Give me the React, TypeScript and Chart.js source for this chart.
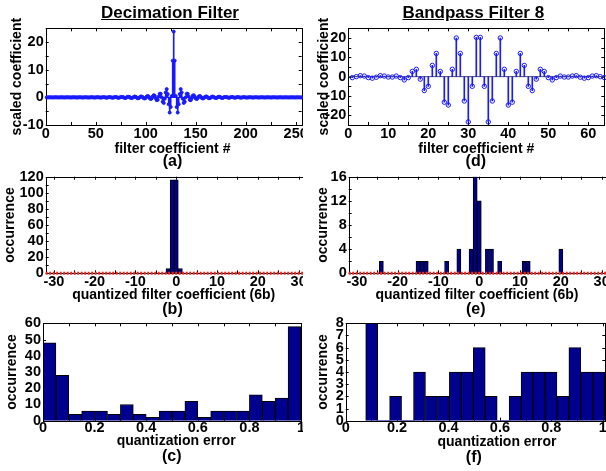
import React, { useEffect, useRef } from 'react';
import { Chart, registerables } from 'chart.js';

Chart.register(...registerables);

const FONT = "'Liberation Sans', Arial, Helvetica, sans-serif";
Chart.defaults.font.family = FONT;
Chart.defaults.color = '#000';

// ---------- Panel (a): decimation filter coefficients (256 taps) ----------
const decimationCoefs = [
  -0.01, -0.01, 0.01, 0.01, 0.01, -0.01, -0.02, -0.01,
  0.01, 0.02, 0.01, -0.01, -0.02, -0.01, 0.01, 0.02, 0.01, -0.02,
  -0.02, -0.01, 0.02, 0.02, 0.01, -0.02, -0.03, -0.01, 0.02, 0.03,
  0.02, -0.02, -0.03, -0.02, 0.02, 0.03, 0.02, -0.02, -0.04, -0.02,
  0.03, 0.04, 0.02, -0.03, -0.04, -0.02, 0.03, 0.05, 0.02, -0.04,
  -0.05, -0.02, 0.04, 0.06, 0.03, -0.05, -0.07, -0.03, 0.06, 0.08,
  0.03, -0.06, -0.1, -0.04, 0.08, 0.1, 0.04, -0.08, -0.12, -0.05,
  0.1, 0.12, 0.05, -0.1, -0.15, -0.05, 0.1, 0.15, 0.1, 0.0,
  -0.2, -0.2, 0.0, 0.2, 0.2, 0.1, -0.2, -0.2, -0.1, 0.1,
  0.3, 0.2, -0.1, -0.3, -0.3, 0.0, 0.3, 0.3, 0.1, -0.3,
  -0.4, -0.2, 0.3, 0.5, 0.3, -0.3, -0.6, -0.4, 0.3, 0.8,
  0.6, -0.3, -1.0, -0.9, 0.3, 1.3, 1.3, 0.0, -1.6, -2.0,
  -0.5, 1.8, 3.0, 1.2, -2.5, -5.5, -3.5, 0.5, 13.3,
  23.8,
  13.3, 0.5, -3.5, -5.5, -2.5, 1.2, 3.0, 1.8, -0.5, -2.0,
  -1.6, 0.0, 1.3, 1.3, 0.3, -0.9, -1.0, -0.3, 0.6, 0.8,
  0.3, -0.4, -0.6, -0.3, 0.3, 0.5, 0.3, -0.2, -0.4, -0.3,
  0.1, 0.3, 0.3, 0.0, -0.3, -0.3, -0.1, 0.2, 0.3, 0.1,
  -0.1, -0.2, -0.2, 0.1, 0.2, 0.2, 0.0, -0.2, -0.2, 0.0,
  0.1, 0.15, 0.1, -0.05, -0.15, -0.1, 0.05, 0.12, 0.1, -0.05,
  -0.12, -0.08, 0.04, 0.1, 0.08, -0.04, -0.1, -0.06, 0.03, 0.08,
  0.06, -0.03, -0.07, -0.05, 0.03, 0.06, 0.04, -0.02, -0.05, -0.04,
  0.02, 0.05, 0.03, -0.02, -0.04, -0.03, 0.02, 0.04, 0.03, -0.02,
  -0.04, -0.02, 0.02, 0.03, 0.02, -0.02, -0.03, -0.02, 0.02, 0.03,
  0.02, -0.01, -0.03, -0.02, 0.01, 0.02, 0.02, -0.01, -0.02, -0.02,
  0.01, 0.02, 0.01, -0.01, -0.02, -0.01, 0.01, 0.02, 0.01, -0.01,
  -0.02, -0.01, 0.01, 0.01, 0.01, -0.01, -0.01, -0.01,
];
const decimationIndex = decimationCoefs.map((_, i) => i + 1);

// ---------- Panel (d): bandpass filter 8 coefficients (64 taps) ----------
const bandpassCoefs = [
  -0.5, 0, 0.5, 0.3, -0.5, -0.8, -0.3, 0.5, 0.3, -0.2,
  -0.2, 0.3, -0.5, -1.7, -0.5, 2.7, 3.8, -1.3, -7.2, -5,
  5.8, 12, 2.7, -13.2, -14.7, 3.8, 20, 12, -12.6, -23.4,
  -5, 20.3, 20.3, -5, -23.4, -12.6, 12, 20, 3.8, -14.7,
  -13.2, 2.7, 12, 5.8, -5, -7.2, -1.3, 3.8, 2.7, -0.5,
  -1.7, -0.5, 0.3, -0.2, -0.2, 0.3, 0.5, -0.3, -0.8, -0.5,
  0.3, 0.5, 0, -0.5,
];
const bandpassIndex = bandpassCoefs.map((_, i) => i + 1);

// ---------- Panel (b): histogram of quantized decimation coefs ----------
const decQuantBins = [-2, -1, 0, 1];
const decQuantCounts = [6, 116, 116, 6];

// ---------- Panel (e): histogram of quantized bandpass coefs ----------
const bpQuantBins = [-24, -15, -14, -13, -8, -5, -2, -1, 0, 2, 3, 5, 11, 12, 20];
const bpQuantCounts = [2, 2, 2, 2, 2, 4, 4, 16, 12, 4, 4, 2, 2, 2, 4];

// ---------- Panel (c): quantization error histogram (decimation) ----------
const decErrBins = [0.025, 0.075, 0.125, 0.175, 0.225, 0.275, 0.325, 0.375, 0.425, 0.475,
  0.525, 0.575, 0.625, 0.675, 0.725, 0.775, 0.825, 0.875, 0.925, 0.975];
const decErrCounts = [48, 28, 4, 6, 6, 4, 10, 4, 2, 6, 6, 12, 2, 6, 6, 6, 16, 12, 14, 58];

// ---------- Panel (f): quantization error histogram (bandpass) ----------
const bpErrBins = [0.1011, 0.1476, 0.1941, 0.2406, 0.2871, 0.3336, 0.3801, 0.4266, 0.4731, 0.5196,
  0.5661, 0.6126, 0.6591, 0.7056, 0.7521, 0.7986, 0.8451, 0.8916, 0.9381, 0.9846];
const bpErrCounts = [8, 0, 2, 0, 4, 2, 2, 4, 4, 6, 2, 0, 2, 4, 4, 4, 2, 6, 4, 4];

// ---------- Tick values / labels ----------
const aXTicks = [0, 25, 50, 75, 100, 125, 150, 175, 200, 225, 250];
const aXLabels = ['0', '', '50', '', '100', '', '150', '', '200', '', '250'];
const aYTicks = [-10, -5, 0, 5, 10, 15, 20, 25];
const aYLabels = ['-10', '', '0', '', '10', '', '20', ''];
const dXTicks = [0, 5, 10, 15, 20, 25, 30, 35, 40, 45, 50, 55, 60];
const dXLabels = ['0', '', '10', '', '20', '', '30', '', '40', '', '50', '', '60'];
const dYTicks = [-25, -20, -15, -10, -5, 0, 5, 10, 15, 20, 25];
const dYLabels = ['', '-20', '', '-10', '', '0', '', '10', '', '20', ''];
const qXTicks = [-30, -25, -20, -15, -10, -5, 0, 5, 10, 15, 20, 25, 30];
const qXLabels = ['-30', '', '-20', '', '-10', '', '0', '', '10', '', '20', '', '30'];
const bYTicks = [0, 10, 20, 30, 40, 50, 60, 70, 80, 90, 100, 110, 120];
const bYLabels = ['0', '', '20', '', '40', '', '60', '', '80', '', '100', '', '120'];
const eYTicks = [0, 2, 4, 6, 8, 10, 12, 14, 16];
const eYLabels = ['0', '', '4', '', '8', '', '12', '', '16'];
const errXTicks = [0, 0.1, 0.2, 0.3, 0.4, 0.5, 0.6, 0.7, 0.8, 0.9, 1];
const errXLabels = ['0', '', '0.2', '', '0.4', '', '0.6', '', '0.8', '', '1'];
const cYTicks = [0, 10, 20, 30, 40, 50, 60];
const cYLabels = ['0', '10', '20', '30', '40', '50', '60'];
const fYTicks = [0, 1, 2, 3, 4, 5, 6, 7, 8];
const fYLabels = ['0', '1', '2', '3', '4', '5', '6', '7', '8'];

// ---------- Texts ----------
const titleLeft = 'Decimation Filter';
const titleRight = 'Bandpass Filter 8';
const xTitleCoef = 'filter coefficient #';
const xTitleQuant = 'quantized filter coefficient (6b)';
const xTitleErr = 'quantization error';
const yTitleCoef = 'scaled coefficient';
const yTitleOcc = 'occurrence';

const COL2 = 303;
const STEM_BLUE = '#1a1aff';
const HIST_FILL = '#00008f';

const framePlugin = {
  id: 'frameTicks',
  beforeDatasetsDraw(chart: any) {
    const { ctx, chartArea } = chart;
    const { left, right, top, bottom } = chartArea;
    const xs = chart.scales.x;
    const ys = chart.scales.y;
    const len = 3;
    ctx.save();
    ctx.strokeStyle = '#000';
    ctx.lineWidth = 1;
    ctx.beginPath();
    xs.ticks.forEach((t: any) => {
      const px = Math.round(xs.getPixelForValue(t.value)) + 0.5;
      ctx.moveTo(px, bottom);
      ctx.lineTo(px, bottom - len);
      ctx.moveTo(px, top);
      ctx.lineTo(px, top + len);
    });
    ys.ticks.forEach((t: any) => {
      const py = Math.round(ys.getPixelForValue(t.value)) + 0.5;
      ctx.moveTo(left, py);
      ctx.lineTo(left + len, py);
      ctx.moveTo(right, py);
      ctx.lineTo(right - len, py);
    });
    ctx.stroke();
    const l = Math.round(left) + 0.5;
    const t = Math.round(top) + 0.5;
    ctx.strokeRect(l, t, Math.round(right) - Math.round(left), Math.round(bottom) - Math.round(top));
    ctx.restore();
  },
};

type Spec = {
  col: number;
  plot: { L: number; T: number; R: number; B: number };
  xMin: number; xMax: number; yMin: number; yMax: number;
  xTicks: number[]; xLabels: string[];
  yTicks: number[]; yLabels: string[];
  yTitle: string; yTitlePad: number; xTickPad: number;
  datasets: any[];
};

const toPts = (xs: number[], ys: number[]) => xs.map((x, i) => ({ x, y: ys[i] }));

const stemDatasets = (xs: number[], ys: number[], radius: number, filled: boolean, baseEnd: number, baseColor: string) => [
  {
    type: 'line', data: toPts(xs, ys), showLine: false,
    pointRadius: radius, pointBorderWidth: 1, pointBorderColor: STEM_BLUE,
    pointBackgroundColor: filled ? STEM_BLUE : 'rgba(0,0,0,0)', order: 0, clip: false,
  },
  {
    type: 'bar', data: toPts(xs, ys), backgroundColor: STEM_BLUE, barThickness: 1,
    borderWidth: 0, order: 1,
  },
  {
    type: 'line', data: [{ x: 0, y: 0 }, { x: baseEnd, y: 0 }], borderColor: baseColor,
    borderWidth: 1, pointRadius: 0, order: 2,
  },
];

const histDatasets = (xs: number[], ys: number[], redLine: number[] | null) => {
  const ds: any[] = [
    {
      type: 'bar', data: toPts(xs, ys), backgroundColor: HIST_FILL, borderColor: '#000',
      borderWidth: (c: any) => (c.raw && c.raw.y > 0 ? 1 : 0),
      barPercentage: 1, categoryPercentage: 1, order: 1,
    },
  ];
  if (redLine) {
    ds.push({
      type: 'line', data: [{ x: redLine[0], y: 0 }, { x: redLine[1], y: 0 }], borderColor: '#ff1f1f',
      borderWidth: 3, borderDash: [2, 1.5], pointRadius: 0, order: 0, clip: false,
    });
  }
  return ds;
};

const specs: Spec[] = [
  {
    col: 0, plot: { L: 45.7, T: 28.3, R: 301.7, B: 125 },
    xMin: 0, xMax: 256, yMin: -10, yMax: 25,
    xTicks: aXTicks, xLabels: aXLabels, yTicks: aYTicks, yLabels: aYLabels,
    yTitle: yTitleCoef, yTitlePad: 9.1, xTickPad: 0,
    datasets: stemDatasets(decimationIndex, decimationCoefs, 1.5, true, 256, STEM_BLUE),
  },
  {
    col: 1, plot: { L: 348.3, T: 28.3, R: 604.3, B: 125 },
    xMin: 0, xMax: 64, yMin: -25, yMax: 25,
    xTicks: dXTicks, xLabels: dXLabels, yTicks: dYTicks, yLabels: dYLabels,
    yTitle: yTitleCoef, yTitlePad: 12.6, xTickPad: 0,
    datasets: stemDatasets(bandpassIndex, bandpassCoefs, 2.2, false, 64, '#555'),
  },
  {
    col: 0, plot: { L: 45.7, T: 176.7, R: 306.8, B: 273.3 },
    xMin: -32, xMax: 32, yMin: 0, yMax: 120,
    xTicks: qXTicks, xLabels: qXLabels, yTicks: bYTicks, yLabels: bYLabels,
    yTitle: yTitleOcc, yTitlePad: 2.1, xTickPad: 0,
    datasets: histDatasets(decQuantBins, decQuantCounts, [-32, 32]),
  },
  {
    col: 1, plot: { L: 348.7, T: 176.7, R: 609.8, B: 273.3 },
    xMin: -32, xMax: 32, yMin: 0, yMax: 16,
    xTicks: qXTicks, xLabels: qXLabels, yTicks: eYTicks, yLabels: eYLabels,
    yTitle: yTitleOcc, yTitlePad: 11.4, xTickPad: 0,
    datasets: histDatasets(bpQuantBins, bpQuantCounts, [-32, 32]),
  },
  {
    col: 0, plot: { L: 43, T: 323.3, R: 301, B: 420.7 },
    xMin: 0, xMax: 1, yMin: 0, yMax: 60,
    xTicks: errXTicks, xLabels: errXLabels, yTicks: cYTicks, yLabels: cYLabels,
    yTitle: yTitleOcc, yTitlePad: 3.7, xTickPad: -1,
    datasets: histDatasets(decErrBins, decErrCounts, null),
  },
  {
    col: 1, plot: { L: 345.7, T: 323.3, R: 605.3, B: 420.7 },
    xMin: 0, xMax: 1.01, yMin: 0, yMax: 8,
    xTicks: errXTicks, xLabels: errXLabels, yTicks: fYTicks, yLabels: fYLabels,
    yTitle: yTitleOcc, yTitlePad: 11.7, xTickPad: -1,
    datasets: histDatasets(bpErrBins, bpErrCounts, null),
  },
];

const tickFont = { family: FONT, size: 14.5, weight: 'bold' as const };

function PanelChart({ spec }: { spec: Spec }) {
  const ref = useRef<HTMLCanvasElement>(null);
  const colX = spec.col === 0 ? 0 : COL2;
  const canvasTop = Math.floor(spec.plot.T) - 14;
  const canvasH = Math.ceil(spec.plot.B) + 26 - canvasTop;
  const canvasW = 340;
  useEffect(() => {
    const padTop = spec.plot.T - canvasTop;
    const xH = canvasTop + canvasH - spec.plot.B;
    const yW = spec.plot.L - colX;
    const padRight = canvasW - (spec.plot.R - colX);
    const chart = new Chart(ref.current as HTMLCanvasElement, {
      type: 'bar',
      data: { datasets: spec.datasets },
      options: {
        animation: false,
        responsive: false,
        maintainAspectRatio: false,
        events: [],
        layout: { padding: { left: 0, top: padTop, right: padRight, bottom: 0 } },
        plugins: { legend: { display: false }, tooltip: { enabled: false }, title: { display: false } },
        scales: {
          x: {
            type: 'linear', min: spec.xMin, max: spec.xMax, offset: false,
            grid: { display: false, drawTicks: false }, border: { display: false },
            ticks: {
              font: tickFont, color: '#000', padding: spec.xTickPad, autoSkip: false, maxRotation: 0, minRotation: 0,
              callback: (_v: any, i: number) => spec.xLabels[i],
            },
            afterBuildTicks: (s: any) => { s.ticks = spec.xTicks.map((v) => ({ value: v })); },
            afterFit: (s: any) => { s.height = xH; },
          },
          y: {
            type: 'linear', min: spec.yMin, max: spec.yMax,
            grid: { display: false, drawTicks: false }, border: { display: false },
            ticks: {
              font: tickFont, color: '#000', padding: 2, autoSkip: false,
              callback: (_v: any, i: number) => spec.yLabels[i],
            },
            title: {
              display: true, text: spec.yTitle, color: '#000',
              font: { family: FONT, size: 14, weight: 'bold' },
              padding: { top: spec.yTitlePad, bottom: 0 },
            },
            afterBuildTicks: (s: any) => { s.ticks = spec.yTicks.map((v) => ({ value: v })); },
            afterFit: (s: any) => { s.width = yW; },
          },
        },
      } as any,
      plugins: [framePlugin],
    });
    return () => chart.destroy();
  }, []);
  return (
    <canvas
      ref={ref}
      width={canvasW}
      height={canvasH}
      style={{ position: 'absolute', left: 0, top: canvasTop, width: canvasW, height: canvasH }}
    />
  );
}

function Label({ text, cx, my, size, underline }: { text: string; cx: number; my: number; size: number; underline?: boolean }) {
  return (
    <div
      style={{
        position: 'absolute', left: cx, top: my - size / 2, transform: 'translateX(-50%)',
        fontFamily: FONT, fontWeight: 'bold', fontSize: size, lineHeight: `${size}px`,
        whiteSpace: 'nowrap', color: '#000', textDecoration: underline ? 'underline' : 'none',
      }}
    >
      {text}
    </div>
  );
}

export default function App() {
  return (
    <div style={{ position: 'fixed', left: 0, top: 0, width: 606, height: 471, overflow: 'hidden', background: '#fff' }}>
      <div style={{ position: 'absolute', left: 0, top: 0, width: 303, height: 471, overflow: 'hidden' }}>
        {specs.filter((s) => s.col === 0).map((s, i) => <PanelChart key={i} spec={s} />)}
      </div>
      <div style={{ position: 'absolute', left: COL2, top: 0, width: 303, height: 471, overflow: 'hidden' }}>
        {specs.filter((s) => s.col === 1).map((s, i) => <PanelChart key={i} spec={s} />)}
      </div>
      <Label text={titleLeft} cx={170} my={12.4} size={17} underline />
      <Label text={titleRight} cx={473.3} my={12.4} size={17} underline />
      <Label text={xTitleCoef} cx={172.5} my={148} size={14} />
      <Label text={xTitleCoef} cx={476.3} my={148} size={14} />
      <Label text="(a)" cx={172.5} my={160.5} size={16} />
      <Label text="(d)" cx={475.8} my={160.5} size={16} />
      <Label text={xTitleQuant} cx={173.7} my={294} size={14} />
      <Label text={xTitleQuant} cx={477} my={294} size={14} />
      <Label text="(b)" cx={172.5} my={309} size={16} />
      <Label text="(e)" cx={475.8} my={309} size={16} />
      <Label text={xTitleErr} cx={176.2} my={440} size={14} />
      <Label text={xTitleErr} cx={497} my={441} size={14} />
      <Label text="(c)" cx={171.7} my={456} size={16} />
      <Label text="(f)" cx={473.8} my={457} size={16} />
    </div>
  );
}
